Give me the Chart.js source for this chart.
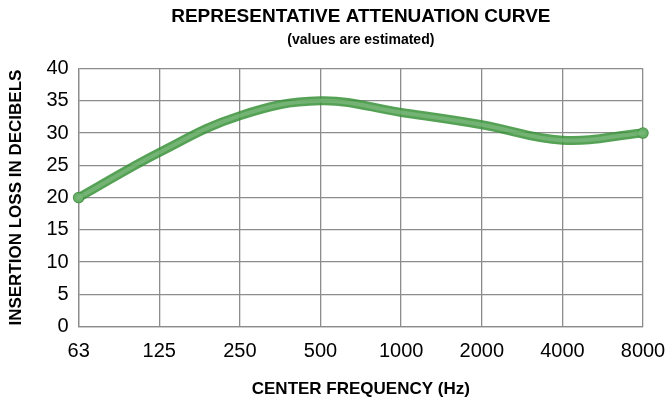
<!DOCTYPE html>
<html>
<head>
<meta charset="utf-8">
<script src="https://cdn.jsdelivr.net/npm/chart.js@4"></script>
<style>
  html, body { margin: 0; padding: 0; background: #fff; }
  #wrap { width: 665px; height: 400px; }
</style>
</head>
<body>
<div id="wrap"><canvas id="myChart"></canvas></div>
<script>
// Chart data
var frequencies = ['63', '125', '250', '500', '1000', '2000', '4000', '8000'];
var insertionLoss = [20, 27, 32.7, 35, 33.2, 31.3, 28.9, 30];

var FONT = "'Liberation Sans', Arial, sans-serif";

// only the two end points get a visible marker
function endRadius(c) {
    return (c.dataIndex === 0 || c.dataIndex === insertionLoss.length - 1) ? 5 : 0;
}

var ctx = document.getElementById('myChart').getContext('2d');
var myChart = new Chart(ctx, {
    type: 'line',
    data: {
        labels: frequencies,
        datasets: [
            {
                label: 'Insertion loss (inner)',
                data: insertionLoss,
                borderColor: 'rgba(140, 195, 140, 0.55)',
                borderWidth: 4,
                tension: 0.4,
                pointRadius: endRadius,
                pointBorderWidth: 0,
                pointBackgroundColor: 'rgba(120, 185, 120, 0.5)',
                borderCapStyle: 'round',
                fill: false
            },
            {
                label: 'Insertion loss',
                data: insertionLoss,
                borderColor: 'rgba(55, 145, 55, 0.85)',
                borderWidth: 9,
                tension: 0.4,
                pointRadius: endRadius,
                pointBorderWidth: 1.5,
                pointBorderColor: 'rgba(55, 140, 55, 0.9)',
                pointBackgroundColor: 'rgba(100, 170, 100, 0.6)',
                borderCapStyle: 'round',
                fill: false
            }
        ]
    },
    options: {
        responsive: true,
        maintainAspectRatio: false,
        animation: false,
        layout: {
            padding: { left: 6, right: 0, top: 0, bottom: 0 }
        },
        plugins: {
            legend: { display: false },
            tooltip: { enabled: false },
            title: {
                display: true,
                fullSize: false,
                text: 'REPRESENTATIVE ATTENUATION CURVE',
                color: '#000',
                font: { family: FONT, size: 19, weight: 'bold' },
                padding: { top: 5, bottom: 2 }
            },
            subtitle: {
                display: true,
                fullSize: false,
                text: '(values are estimated)',
                color: '#000',
                font: { family: FONT, size: 14, weight: 'bold' },
                padding: { top: 2, bottom: 20 }
            }
        },
        scales: {
            x: {
                offset: false,
                grid: { color: '#8c8c8c', lineWidth: 1.3, drawTicks: false },
                border: { color: '#8c8c8c', width: 1.3 },
                ticks: {
                    color: '#000',
                    font: { family: FONT, size: 20 },
                    padding: 13,
                    maxRotation: 0
                },
                title: {
                    display: true,
                    text: 'CENTER FREQUENCY (Hz)',
                    color: '#000',
                    font: { family: FONT, size: 17, weight: 'bold' },
                    padding: { top: 3, bottom: 0 }
                },
                // the tick padding would otherwise be added to the right edge too
                afterFit: function (scale) {
                    scale.paddingRight = 22;
                }
            },
            y: {
                min: 0,
                max: 40,
                grid: { color: '#8c8c8c', lineWidth: 1.3, drawTicks: false },
                border: { color: '#8c8c8c', width: 1.3 },
                ticks: {
                    stepSize: 5,
                    color: '#000',
                    font: { family: FONT, size: 20 },
                    padding: 10
                },
                title: {
                    display: true,
                    text: 'INSERTION LOSS IN DECIBELS',
                    color: '#000',
                    font: { family: FONT, size: 17, weight: 'bold' },
                    padding: { top: 0, bottom: 10 }
                }
            }
        }
    }
});
</script>
</body>
</html>
